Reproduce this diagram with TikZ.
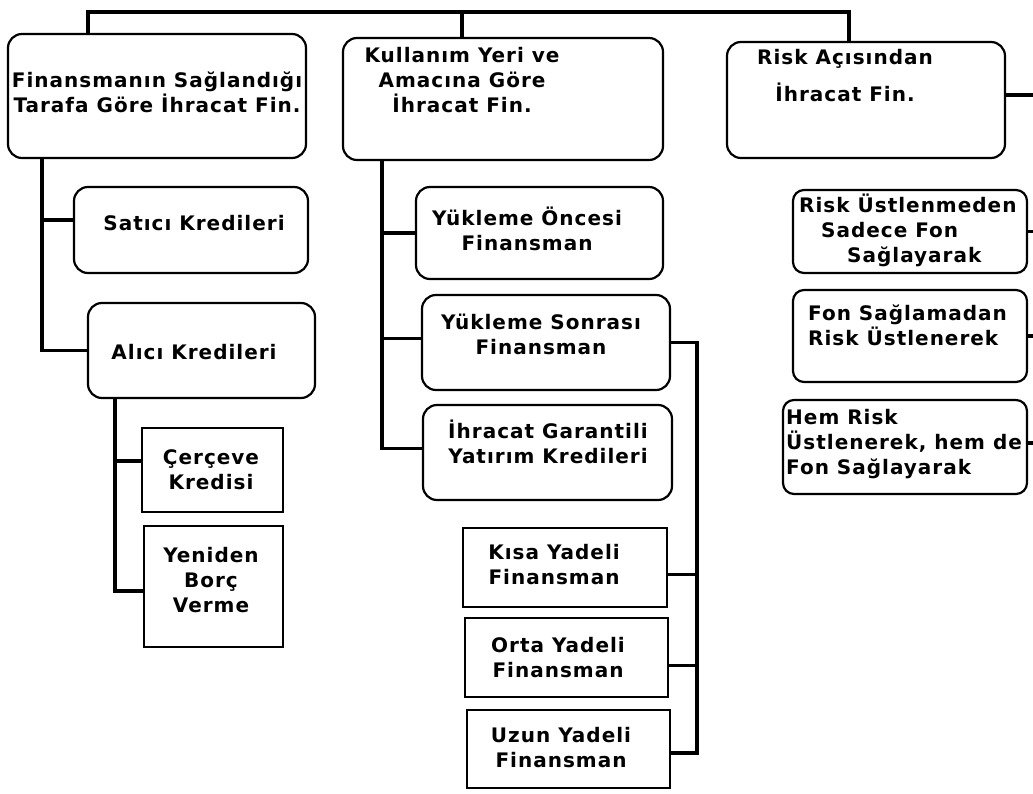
\documentclass[tikz,border=0pt]{standalone}
\usepackage{fontspec}
\setmainfont{DejaVu Sans}
\newfontfamily\boxfont{DejaVu Sans Bold}[LetterSpace=5]
% box from corner (x1,y1) to (x2,y2), y counted downwards
\newcommand\mkbox[6]{%
  \node[#6, minimum width={#4-#2}, minimum height={#5-#3}]
    (#1) at ({(#2+#4)/2},{(#3+#5)/2}) {};}
\begin{document}
\begin{tikzpicture}[x=1pt,y=-1pt,
  rbox/.style={draw, line width=2.2pt, rounded corners=14pt, inner sep=0pt},
  sbox/.style={draw, line width=2.2pt, rounded corners=11pt, inner sep=0pt},
  qbox/.style={draw, line width=2pt, inner sep=0pt},
  conn/.style={line width=3.2pt},
  lbl/.style={font=\boxfont\fontsize{20}{25}\selectfont, align=center, inner sep=0pt},
  llbl/.style={lbl, align=left},
]
\useasboundingbox (0,0) rectangle (1033,794);
\clip (0,0) rectangle (1033,794);

% main headings
\mkbox{b1}{8}{34}{306}{158}{rbox}
\mkbox{b2}{343}{38}{663}{160}{rbox}
\mkbox{b3}{727}{42}{1005}{158}{rbox}

% left branch
\mkbox{sat}{74}{187}{308}{273}{rbox}
\mkbox{ali}{88}{303}{315}{398}{rbox}
\mkbox{cer}{142}{428}{283}{512}{qbox}
\mkbox{yen}{144}{526}{283}{647}{qbox}

% middle branch
\mkbox{yo}{416}{187}{663}{279}{rbox}
\mkbox{ys}{422}{295}{670}{390}{rbox}
\mkbox{ig}{423}{405}{672}{500}{rbox}
\mkbox{kis}{463}{528}{667}{607}{qbox}
\mkbox{ort}{465}{618}{668}{697}{qbox}
\mkbox{uzn}{467}{710}{670}{788}{qbox}

% right branch
\mkbox{r1}{793}{190}{1027}{273}{sbox}
\mkbox{r2}{793}{290}{1027}{382}{sbox}
\mkbox{r3}{783}{400}{1027}{494}{sbox}

% bus lines
\coordinate (tl) at (88,12);
\coordinate (tm) at (462,12);
\coordinate (tr) at (849,12);
\coordinate (lv) at (42,0);
\coordinate (av) at (115,0);
\coordinate (mv) at (382,0);
\coordinate (sv) at (697,0);
\coordinate (rv) at (1040,0);

% connector end points on the box sides
\coordinate (satw) at ([yshift=10pt]sat.west);
\coordinate (cerw) at ([yshift=9pt]cer.west);
\coordinate (yenw) at ([yshift=-4.5pt]yen.west);
\coordinate (ysw) at ([yshift=4pt]ys.west);
\coordinate (igw) at ([yshift=4pt]ig.west);
\coordinate (kise) at ([yshift=-7pt]kis.east);
\coordinate (orte) at ([yshift=-8pt]ort.east);
\coordinate (uzne) at ([yshift=-4pt]uzn.east);
\coordinate (b3e) at ([yshift=5pt]b3.east);
\coordinate (r3e) at ([yshift=4pt]r3.east);

\draw[conn] (b1.north -| tl) -- (tl) -- (tr) -- (b3.north -| tr);
\draw[conn] (tm) -- (b2.north -| tm);

\draw[conn] (b1.south -| lv) |- (satw);
\draw[conn] (b1.south -| lv) |- (ali.west);
\draw[conn] (ali.south -| av) |- (cerw);
\draw[conn] (ali.south -| av) |- (yenw);

\draw[conn] (b2.south -| mv) |- (yo.west);
\draw[conn] (b2.south -| mv) |- (ysw);
\draw[conn] (b2.south -| mv) |- (igw);

\draw[conn] (ys.east) -| (sv |- uzne) -- (uzne);
\draw[conn] (kise) -- (kise -| sv);
\draw[conn] (orte) -- (orte -| sv);

\draw[conn] (b3e) -| (rv |- r3e);
\draw[conn] (r1.east) -- (r1.east -| rv);
\draw[conn] (r2.east) -- (r2.east -| rv);
\draw[conn] (r3e) -- (r3e -| rv);

% texts
\node[lbl] (t1) at (157,92) {Finansmanın Sağlandığı\\Tarafa Göre İhracat Fin.};
\node[lbl] (t2) at (462,80) {Kullanım Yeri ve\\Amacına Göre\\İhracat Fin.};
\node[lbl] (t3) at (845,76) {Risk Açısından\\[12pt]İhracat Fin.};
\node[lbl] (tsat) at (194,223) {Satıcı Kredileri};
\node[lbl] (tali) at (194,352) {Alıcı Kredileri};
\node[lbl] (tcer) at (211,470) {Çerçeve\\Kredisi};
\node[lbl] (tyen) at (211,580) {Yeniden\\Borç\\Verme};
\node[lbl] (tyo) at (527,229) {Yükleme Öncesi\\Finansman};
\node[lbl] (tys) at (541,334) {Yükleme Sonrası\\Finansman};
\node[lbl] (tig) at (548,442) {İhracat Garantili\\Yatırım Kredileri};
\node[lbl] (tkis) at (554,565) {Kısa Yadeli\\Finansman};
\node[lbl] (tort) at (558,658) {Orta Yadeli\\Finansman};
\node[lbl] (tuzn) at (561,748) {Uzun Yadeli\\Finansman};
\node[llbl, anchor=north west] (tr1) at (799,194)
  {Risk Üstlenmeden\\\hspace*{22pt}Sadece Fon\\\hspace*{48pt}Sağlayarak};
\node[llbl, anchor=west] (tr2) at (808,325) {Fon Sağlamadan\\Risk Üstlenerek};
\node[llbl, anchor=west] (tr3) at (786,444) {Hem Risk\\Üstlenerek, hem de\\Fon Sağlayarak};
\end{tikzpicture}
\end{document}
